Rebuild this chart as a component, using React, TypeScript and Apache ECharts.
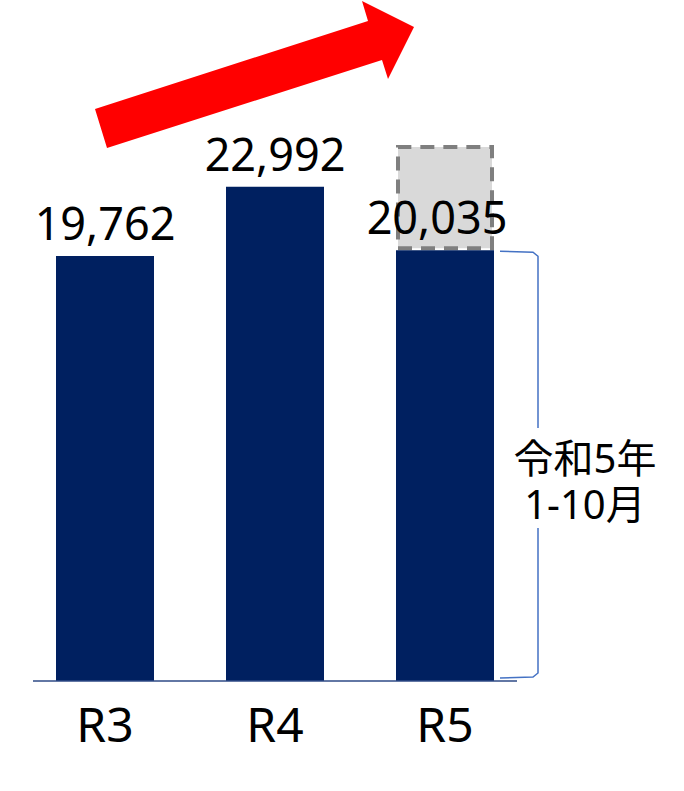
import React, { useEffect, useRef } from "react";
import * as echarts from "echarts";

const categories = ["R3", "R4", "R5"];
const actualValues = [19762, 22992, 20035];
const projectedExtra: (number | string)[] = ["-", "-", 4900];
const valueLabels = ["19,762", "22,992", "20,035"];
const bracketLines = ["令和5年", "1-10月"];

const FONT = "'Noto Sans', 'Noto Sans CJK JP', sans-serif";

export default function App() {
  const ref = useRef<HTMLDivElement>(null);

  useEffect(() => {
    if (!ref.current) return;
    const chart = echarts.init(ref.current, null, { renderer: "svg" });
    chart.setOption({
      animation: false,
      grid: { left: 20, right: 154, top: 36, bottom: 110 },
      xAxis: {
        type: "category",
        data: categories,
        axisLine: { show: false },
        axisTick: { show: false },
        axisLabel: { fontSize: 48, color: "#000", fontFamily: FONT, margin: 18 },
      },
      yAxis: {
        type: "value",
        min: 0,
        max: 30000,
        show: false,
        splitLine: { show: false },
      },
      series: [
        {
          type: "bar",
          stack: "total",
          z: 2,
          barWidth: 98,
          data: actualValues.map((v, i) =>
            i === 2 ? { value: v, label: { offset: [-8, 0] } } : v
          ),
          itemStyle: { color: "#002060" },
          label: {
            show: true,
            position: "top",
            distance: 11,
            fontSize: 45,
            color: "#000",
            fontFamily: FONT,
            formatter: (p: any) => valueLabels[p.dataIndex],
          },
        },
        {
          type: "bar",
          stack: "total",
          z: 1,
          barWidth: 94,
          data: projectedExtra,
          itemStyle: {
            color: "#d9d9d9",
            borderColor: "#7f7f7f",
            borderWidth: 4,
            borderType: [14, 9],
          },
        },
      ],
    });

    const yBase = chart.convertToPixel({ yAxisIndex: 0 }, 0) as number;
    const yTop = chart.convertToPixel({ yAxisIndex: 0 }, actualValues[2]) as number;
    const xR5 = chart.convertToPixel({ xAxisIndex: 0 }, categories[2]) as number;
    const bx0 = xR5 + 55;
    const bx1 = xR5 + 93;
    const gapTop = 428;
    const gapBottom = 528;
    const lineStyle = { stroke: "#4472c4", lineWidth: 1.5, fill: null };

    chart.setOption({
      graphic: [
        {
          type: "polygon",
          shape: {
            points: [
              [95, 109],
              [368, 21],
              [362, 1],
              [414, 27],
              [388, 79],
              [382, 60],
              [107, 148],
            ],
          },
          style: { fill: "#ff0000" },
          z: 10,
        },
        {
          type: "line",
          shape: { x1: 33, y1: yBase, x2: 517, y2: yBase },
          style: { stroke: "#2e4a86", lineWidth: 1.5 },
          z: 10,
        },
        {
          type: "polyline",
          shape: {
            points: [
              [bx0, yTop + 1],
              [bx1 - 5, yTop + 2],
              [bx1, yTop + 6],
              [bx1, gapTop],
            ],
          },
          style: lineStyle,
          z: 10,
        },
        {
          type: "polyline",
          shape: {
            points: [
              [bx1, gapBottom],
              [bx1, yBase - 8],
              [bx1 - 5, yBase - 4],
              [bx0, yBase - 3],
            ],
          },
          style: lineStyle,
          z: 10,
        },
        ...bracketLines.map((t, i) => ({
          type: "text",
          x: 585,
          y: 457 + i * 46,
          style: {
            text: t,
            fontSize: 40,
            fontFamily: FONT,
            fill: "#000",
            align: "center",
            verticalAlign: "middle",
          },
          z: 10,
        })),
      ],
    });

    return () => chart.dispose();
  }, []);

  return (
    <div
      ref={ref}
      style={{ position: "fixed", left: 0, top: 0, width: 684, height: 791, background: "#fff" }}
    />
  );
}
